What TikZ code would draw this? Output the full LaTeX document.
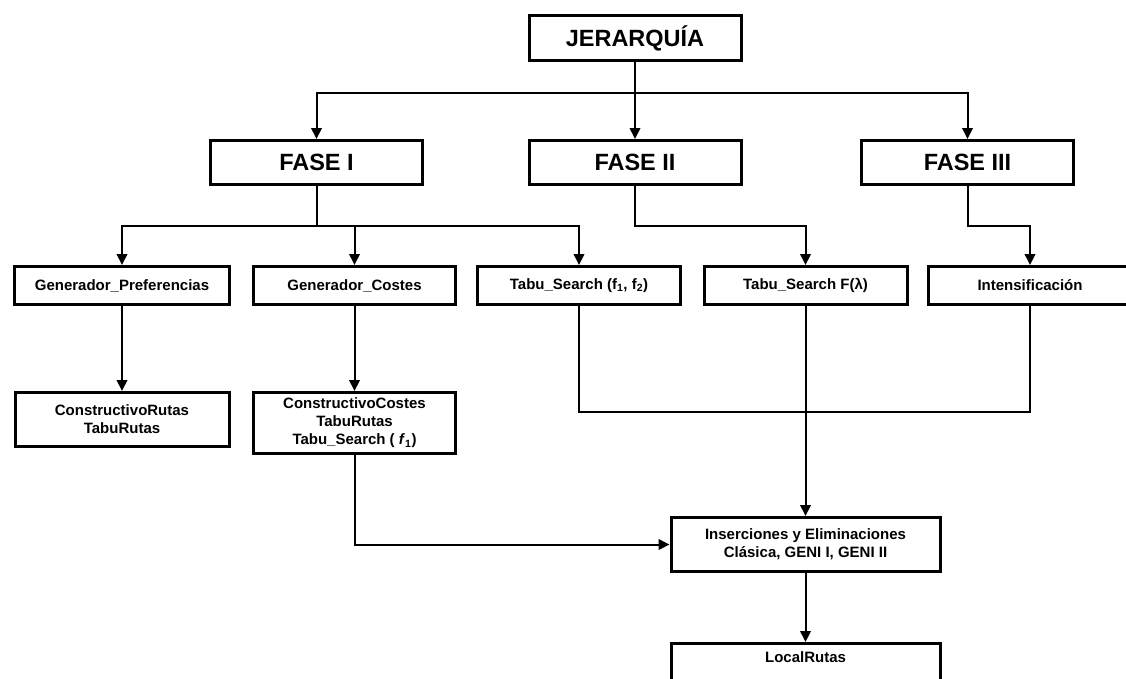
\documentclass[tikz,border=0pt]{standalone}
\usepackage{fontspec}
\setmainfont{Liberation Sans}
\usetikzlibrary{arrows.meta}

\begin{document}
\begin{tikzpicture}[x=1pt,y=-1pt,
  caja/.style={draw, line width=3pt, align=center, inner sep=0pt,
    font=\bfseries\fontsize{15}{18}\selectfont},
  cajag/.style={caja, font=\bfseries\fontsize{23.5}{27}\selectfont,
    minimum width=212pt, minimum height=44pt},
  linea/.style={line width=2pt},
  flecha/.style={linea, -{Triangle[length=11pt,width=10.5pt]}}]

\useasboundingbox (0,0) rectangle (1126,678);
\clip (0,0) rectangle (1126,678);

% niveles superiores
\node[cajag, minimum height=45pt] (jer) at (635,38) {JERARQUÍA};
\node[cajag] (fase1) at (316.5,162.5) {FASE I};
\node[cajag] (fase2) at (635,162.5) {FASE II};
\node[cajag] (fase3) at (967.5,162.5) {FASE III};

% segunda fila
\node[caja, minimum width=215pt, minimum height=38pt] (gp) at (122,285.5) {Generador\_Preferencias};
\node[caja, minimum width=202pt, minimum height=38pt] (gc) at (354.5,285.5) {Generador\_Costes};
\node[caja, minimum width=203pt, minimum height=38pt] (t12) at (579,285.5) {Tabu\_Search (f\textsubscript{1}, f\textsubscript{2})};
\node[caja, minimum width=203pt, minimum height=38pt] (tf) at (805.5,285.5) {Tabu\_Search F(λ)};
\node[caja, minimum width=203pt, minimum height=38pt] (int) at (1030,285.5) {Intensificación};

% tercera fila
\node[caja, minimum width=214pt, minimum height=54pt] (cr) at (122,419.5) {ConstructivoRutas\\TabuRutas};
\node[caja, minimum width=202pt, minimum height=61pt] (cc) at (354.5,423) {ConstructivoCostes\\TabuRutas\\Tabu\_Search ( \textit{f}\textsubscript{1})};

% abajo
\node[caja, minimum width=269pt, minimum height=54pt] (ins) at (805.5,544.5) {Inserciones y Eliminaciones\\Clásica, GENI I, GENI II};
\node[caja, anchor=north, minimum width=269pt, inner ysep=8pt, text depth=40pt] (lr) at (805.5,642) {LocalRutas};

% conexiones
\coordinate (cruce) at (635,93);
\draw[flecha] (jer.south) -- (fase2.north);
\draw[flecha] (cruce) -| (fase1.north);
\draw[flecha] (cruce) -| (fase3.north);

\coordinate (ramal) at (316.5,226);
\draw[linea] (fase1.south) -- (ramal);
\draw[flecha] (ramal) -| (gp.north);
\draw[flecha] (ramal) -| (gc.north);
\draw[flecha] (ramal) -| (t12.north);

\draw[flecha] (fase2.south) -- ++(0,40) -| (tf.north);
\draw[flecha] (fase3.south) -- ++(0,40) -| (int.north);

\draw[flecha] (gp.south) -- (cr.north);
\draw[flecha] (gc.south) -- (cc.north);

\coordinate (junta) at (805.5,411.5);
\draw[linea] (t12.south) |- (junta);
\draw[linea] (int.south) |- (junta);
\draw[flecha] (tf.south) -- (ins.north);
\draw[flecha] (cc.south) |- (ins.west);
\draw[flecha] (ins.south) -- (lr.north);

\end{tikzpicture}
\end{document}
